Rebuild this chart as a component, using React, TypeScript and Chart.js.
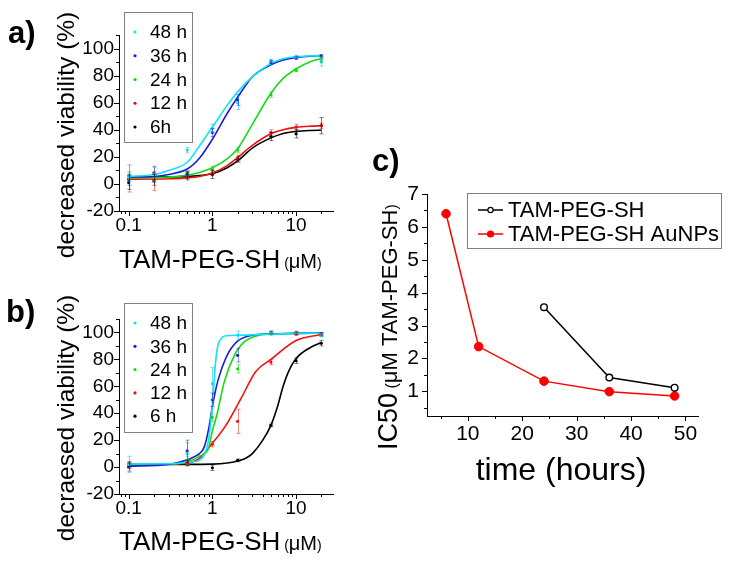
import React, { useEffect, useRef } from 'react';
import { Chart, registerables } from 'chart.js';

Chart.register(...registerables);

const FONT = '"Liberation Sans", Arial, Helvetica, sans-serif';

// ---------------- Panel a : TAM-PEG-SH ----------------
const concA = [0.1, 0.2, 0.5, 1, 2, 5, 10, 20];
const labelsA = ['48 h', '36 h', '24 h', '12 h', '6h'];
const a48 = [5, 7, 25, 41, 60, 91, 94, 90];
const a36 = [3, 8, 7, 38, 62, 90, 93, 94.5];
const a24 = [6, 4, 8, 11, 25, 66, 84, 92];
const a12 = [4, 2, 6, 8, 19, 38, 42, 43];
const a6 = [1, 3, 6, 7, 18, 35, 37, 43];
const a48Err = [3, 5, 2, 3, 5, 1, 1, 3];
const a36Err = [4, 5, 2, 3, 4, 1, 1, 1];
const a24Err = [3, 3, 2, 2, 2, 2, 1, 2];
const a12Err = [10, 7, 2, 2, 2, 2, 2, 2];
const a6Err = [5, 4, 3, 3, 2, 3, 3, 6];
const fitXA = [0.1, 0.2, 0.3, 0.5, 0.7, 1, 1.5, 2, 3, 5, 7, 10, 15, 20];
const fitA48 = [5.5, 7, 10, 16, 28, 42, 58, 68, 79, 89, 92.5, 94, 94.6, 94.8];
const fitA36 = [5, 5.5, 7, 11, 19, 33, 52, 64, 79, 88, 91.5, 93.5, 94.3, 94.8];
const fitA24 = [4.5, 4.8, 5, 6.5, 8.5, 12, 18.5, 26, 44, 67, 78, 85, 90.5, 92.5];
const fitA12 = [3.5, 3.6, 3.8, 4.5, 5.5, 8, 13.5, 19.5, 28.5, 37, 40, 41.8, 42.7, 43];
const fitA6 = [5, 5.1, 5.2, 5.6, 6.2, 7.5, 12, 17, 26.5, 34, 37.3, 38.8, 39.5, 39.7];

// ---------------- Panel b : TAM-PEG-SH AuNPs ----------------
const concB = [0.1, 0.5, 1, 2, 5, 10, 20];
const labelsB = ['48 h', '36 h', '24 h', '12 h', '6 h'];
const b48 = [2, 10, 62, 98, 100, 100, 98];
const b36 = [0, 12, 50, 83, 100, 99.5, 99];
const b24 = [1, 5, 37, 73, 99, 99, 98];
const b12 = [1, 3, 17, 34, 78, 99, 99];
const b6 = [2, 3, -0.5, 5, 31, 79, 92];
const b48Err = [6, 8, 12, 3, 1, 1, 1];
const b36Err = [3, 8, 5, 5, 1, 1, 1];
const b24Err = [2, 3, 3, 3, 1, 1, 1];
const b12Err = [2, 2, 2, 9, 2, 1, 1];
const b6Err = [2, 2, 2, 1, 1, 2, 2];
const fitXB48 = [0.1, 0.3, 0.5, 0.6, 0.7, 0.8, 0.9, 1, 1.1, 1.2, 1.5, 2, 5, 10, 20];
const fitB48 = [2.5, 2.5, 3.5, 4, 5, 9, 20, 47, 80, 93, 97.6, 97.9, 98.8, 99.2, 99.5];
const fitXB36 = [0.1, 0.3, 0.5, 0.6, 0.7, 0.8, 0.9, 1, 1.1, 1.2, 1.5, 2, 3, 5, 10, 20];
const fitB36 = [0.7, 2, 5.5, 7.5, 10, 15, 28, 45, 58, 67, 83, 93.5, 98, 99, 99.3, 99.5];
const fitXB24 = [0.1, 0.3, 0.5, 0.7, 0.9, 1, 1.13, 1.39, 1.83, 2.4, 3.6, 5, 10, 20];
const fitB24 = [2, 2.2, 4, 8, 14, 27, 38.7, 63.5, 83, 93, 98, 99, 99.3, 99.5];
const fitXB12 = [0.1, 0.3, 0.5, 0.7, 0.96, 1.45, 2.2, 3.3, 5, 10, 20];
const fitB12 = [2, 2.2, 3, 6.5, 16.4, 31, 51, 71, 80, 94, 98.5];
const fitXB6 = [0.1, 0.5, 1, 1.5, 2, 2.5, 3, 4, 5, 6, 7, 8, 10, 15, 20];
const fitB6 = [2, 2, 2.2, 3, 4.5, 6.5, 10, 20, 31, 45, 60, 70, 80.6, 89, 92.5];

// ---------------- Panel c : IC50 vs time ----------------
const timesFree = [24, 36, 48];
const ic50Free = [3.56, 1.42, 1.11];
const timesAuNP = [6, 12, 24, 36, 48];
const ic50AuNP = [6.4, 2.36, 1.31, 0.99, 0.86];
const legendC = ['TAM-PEG-SH', 'TAM-PEG-SH AuNPs'];

// tick labels
const xTicksAB = [0.1, 1, 10];
const yTicksAB = [-20, 0, 20, 40, 60, 80, 100];
const xTicksC = [10, 20, 30, 40, 50];
const yTicksC = [1, 2, 3, 4, 5, 6, 7];

const COLORS = ['#10e4f4', '#1c1ce0', '#14dc14', '#f01010', '#000000'];
const ERR_COLORS = ['rgba(16,200,240,0.55)', 'rgba(28,28,224,0.5)', 'rgba(20,200,20,0.5)', 'rgba(240,16,16,0.5)', 'rgba(0,0,0,0.5)'];

function minorValues(scale: any, step: number) {
  const out: number[] = [];
  if (scale.type === 'logarithmic') {
    const e0 = Math.floor(Math.log10(scale.min));
    const e1 = Math.ceil(Math.log10(scale.max));
    for (let e = e0; e <= e1; e++) {
      for (let d = 1; d <= 9; d++) {
        const v = d * Math.pow(10, e);
        if (v >= scale.min * 0.999999 && v <= scale.max * 1.000001) out.push(v);
      }
    }
  } else {
    for (let v = Math.ceil(scale.min / step - 1e-9) * step; v <= scale.max + 1e-9; v += step) out.push(+v.toFixed(6));
  }
  return out;
}

function drawRuns(ctx: CanvasRenderingContext2D, runs: any[], x: number, y: number, rot: number, align: string) {
  ctx.save();
  ctx.translate(x, y);
  if (rot) ctx.rotate(rot);
  ctx.textBaseline = 'alphabetic';
  ctx.textAlign = 'left';
  ctx.fillStyle = '#000';
  let total = 0;
  const widths = runs.map((r) => {
    ctx.font = r.font;
    const w = ctx.measureText(r.s).width;
    total += w;
    return w;
  });
  let cx = align === 'center' ? -total / 2 : align === 'right' ? -total : 0;
  runs.forEach((r, i) => {
    ctx.font = r.font;
    ctx.fillText(r.s, cx, 0);
    cx += widths[i];
  });
  ctx.restore();
}

const decoPlugin = {
  id: 'deco',
  afterDatasetsDraw(chart: any) {
    const ctx = chart.ctx;
    const xs = chart.scales.x;
    const ys = chart.scales.y;
    chart.data.datasets.forEach((ds: any) => {
      if (!ds.errors) return;
      ctx.save();
      ctx.strokeStyle = ds.errorColor;
      ctx.lineWidth = 1;
      ds.data.forEach((p: any, j: number) => {
        const e = ds.errors[j];
        if (!e) return;
        const x = Math.round(xs.getPixelForValue(p.x)) + 0.5;
        const y1 = ys.getPixelForValue(p.y - e);
        const y2 = ys.getPixelForValue(p.y + e);
        ctx.beginPath();
        ctx.moveTo(x, y1);
        ctx.lineTo(x, y2);
        ctx.moveTo(x - 2, y1);
        ctx.lineTo(x + 2, y1);
        ctx.moveTo(x - 2, y2);
        ctx.lineTo(x + 2, y2);
        ctx.stroke();
      });
      ctx.restore();
    });
  },
  afterDraw(chart: any, _args: any, opts: any) {
    const ctx: CanvasRenderingContext2D = chart.ctx;
    const xs = chart.scales.x;
    const ys = chart.scales.y;
    const area = chart.chartArea;
    ctx.save();
    ctx.strokeStyle = '#000';
    ctx.lineWidth = 1;
    const isMajor = (scale: any, v: number) =>
      scale.ticks.some((t: any) => Math.abs(t.value - v) <= Math.abs(v) * 1e-6 + 1e-9);
    minorValues(xs, opts.xStep).forEach((v) => {
      const px = Math.round(xs.getPixelForValue(v)) + 0.5;
      const len = isMajor(xs, v) ? opts.majorLen : opts.minorLen;
      ctx.beginPath();
      ctx.moveTo(px, area.bottom);
      ctx.lineTo(px, area.bottom + len);
      ctx.stroke();
    });
    minorValues(ys, opts.yStep).forEach((v) => {
      const py = Math.round(ys.getPixelForValue(v)) + 0.5;
      const len = isMajor(ys, v) ? opts.majorLen : opts.minorLen;
      ctx.beginPath();
      ctx.moveTo(area.left, py);
      ctx.lineTo(area.left - len, py);
      ctx.stroke();
    });
    ctx.restore();

    const lg = opts.legend;
    if (lg) {
      ctx.save();
      const [x1, y1, x2, y2] = lg.box;
      ctx.fillStyle = '#fff';
      ctx.fillRect(x1, y1, x2 - x1, y2 - y1);
      ctx.strokeStyle = '#808080';
      ctx.lineWidth = 1;
      ctx.strokeRect(x1 + 0.5, y1 + 0.5, x2 - x1, y2 - y1);
      const items = chart.data.datasets.filter((d: any) => d.legendItem);
      items.forEach((d: any, i: number) => {
        const y = lg.y0 + i * lg.dy;
        if (lg.style === 'line') {
          ctx.strokeStyle = d.borderColor;
          ctx.lineWidth = 1.5;
          ctx.beginPath();
          ctx.moveTo(lg.lineX1, y);
          ctx.lineTo(lg.lineX2, y);
          ctx.stroke();
          ctx.beginPath();
          ctx.arc(lg.markerX, y, d.legendRadius, 0, Math.PI * 2);
          ctx.fillStyle = d.pointBackgroundColor;
          ctx.fill();
          ctx.strokeStyle = d.pointBorderColor;
          ctx.lineWidth = 1.2;
          ctx.stroke();
        } else {
          ctx.beginPath();
          ctx.arc(lg.markerX, y, 1.6, 0, Math.PI * 2);
          ctx.fillStyle = d.borderColor;
          ctx.fill();
        }
        ctx.fillStyle = '#000';
        ctx.font = lg.font;
        ctx.textBaseline = 'middle';
        ctx.textAlign = 'left';
        ctx.fillText(d.label, lg.textX, y + 1);
      });
      ctx.restore();
    }

    (opts.texts || []).forEach((t: any) => drawRuns(ctx, t.runs, t.x, t.y, t.rot || 0, t.align || 'left'));
  },
};

const tickFontAB = { family: FONT, size: 19 };

function makeSigmoidPanel(
  conc: number[],
  labels: string[],
  values: number[][],
  errors: number[][],
  fitX: number[][],
  fitY: number[][],
  layout: { top: number; xHeight: number },
  texts: any[],
  legend: any
) {
  const points = values.map((vals, s) => ({
    type: 'scatter',
    label: labels[s],
    legendItem: true,
    data: conc.map((x, i) => ({ x, y: vals[i] })),
    errors: errors[s],
    errorColor: ERR_COLORS[s],
    borderColor: COLORS[s],
    backgroundColor: COLORS[s],
    pointRadius: 1.6,
    pointBorderWidth: 0,
    showLine: false,
  }));
  const curves = fitY.map((ys, s) => ({
    type: 'line',
    label: labels[s] + ' fit',
    data: fitX[s].map((x, i) => ({ x, y: ys[i] })),
    borderColor: COLORS[s],
    borderWidth: 1.6,
    pointRadius: 0,
    cubicInterpolationMode: 'monotone',
    fill: false,
  }));
  return {
    type: 'scatter',
    data: { datasets: [...points, ...curves] },
    plugins: [decoPlugin],
    options: {
      animation: false,
      responsive: false,
      maintainAspectRatio: false,
      events: [],
      layout: { padding: { left: 0, top: layout.top, right: 37, bottom: 0 } },
      plugins: {
        legend: { display: false },
        tooltip: { enabled: false },
        deco: { xStep: 1, yStep: 10, majorLen: 5, minorLen: 3, texts, legend },
      },
      scales: {
        x: {
          type: 'logarithmic',
          min: 0.0766,
          max: 27.6,
          afterBuildTicks: (s: any) => {
            s.ticks = xTicksAB.map((v) => ({ value: v }));
          },
          afterFit: (s: any) => {
            s.height = layout.xHeight;
          },
          ticks: { callback: (v: any) => String(v), font: tickFontAB, color: '#000', padding: 3, autoSkip: false, maxRotation: 0 },
          grid: { display: false, drawTicks: false },
          border: { display: true, color: '#000', width: 1 },
        },
        y: {
          type: 'linear',
          min: -20,
          max: 110,
          afterBuildTicks: (s: any) => {
            s.ticks = yTicksAB.map((v) => ({ value: v }));
          },
          afterFit: (s: any) => {
            s.width = 119;
          },
          ticks: { callback: (v: any) => String(v), font: tickFontAB, color: '#000', padding: 5, autoSkip: false },
          grid: { display: false, drawTicks: false },
          border: { display: true, color: '#000', width: 1 },
        },
      },
    },
  };
}

function xTitleRuns() {
  return [
    { s: 'TAM-PEG-SH', font: `26px ${FONT}` },
    { s: ' (', font: `14px ${FONT}` },
    { s: 'μM', font: `20px ${FONT}` },
    { s: ')', font: `14px ${FONT}` },
  ];
}

function configA() {
  return makeSigmoidPanel(
    concA,
    labelsA,
    [a48, a36, a24, a12, a6],
    [a48Err, a36Err, a24Err, a12Err, a6Err],
    [fitXA, fitXA, fitXA, fitXA, fitXA],
    [fitA48, fitA36, fitA24, fitA12, fitA6],
    { top: 35, xHeight: 69 },
    [
      { runs: [{ s: 'a)', font: `bold 31px ${FONT}` }], x: 8, y: 43 },
      { runs: [{ s: 'decreased viability (%)', font: `24.5px ${FONT}` }], x: 74, y: 135, rot: -Math.PI / 2, align: 'center' },
      { runs: xTitleRuns(), x: 119, y: 268 },
    ],
    { box: [124, 12, 192, 142], markerX: 135, textX: 150, y0: 32, dy: 23.75, font: `19px ${FONT}` }
  );
}

function configB() {
  return makeSigmoidPanel(
    concB,
    labelsB,
    [b48, b36, b24, b12, b6],
    [b48Err, b36Err, b24Err, b12Err, b6Err],
    [fitXB48, fitXB36, fitXB24, fitXB12, fitXB6],
    [fitB48, fitB36, fitB24, fitB12, fitB6],
    { top: 37, xHeight: 70 },
    [
      { runs: [{ s: 'b)', font: `bold 31px ${FONT}` }], x: 6, y: 40 },
      { runs: [{ s: 'decraesed viability (%)', font: `24.5px ${FONT}` }], x: 74, y: 136, rot: -Math.PI / 2, align: 'center' },
      { runs: xTitleRuns(), x: 119, y: 268 },
    ],
    { box: [124, 21, 192, 150], markerX: 135, textX: 150, y0: 41, dy: 23.3, font: `19px ${FONT}` }
  );
}

function configC() {
  const tickFont = { family: FONT, size: 21 };
  return {
    type: 'line',
    data: {
      datasets: [
        {
          label: legendC[0],
          legendItem: true,
          legendRadius: 2.6,
          data: timesFree.map((x, i) => ({ x, y: ic50Free[i] })),
          borderColor: '#000',
          borderWidth: 1.5,
          pointRadius: 3.3,
          pointBorderWidth: 1.4,
          pointBackgroundColor: '#fff',
          pointBorderColor: '#000',
          tension: 0,
          fill: false,
        },
        {
          label: legendC[1],
          legendItem: true,
          legendRadius: 3,
          data: timesAuNP.map((x, i) => ({ x, y: ic50AuNP[i] })),
          borderColor: '#ff0000',
          borderWidth: 1.5,
          pointRadius: 4.3,
          pointBorderWidth: 1,
          pointBackgroundColor: '#ff0000',
          pointBorderColor: '#ff0000',
          tension: 0,
          fill: false,
        },
      ],
    },
    plugins: [decoPlugin],
    options: {
      animation: false,
      responsive: false,
      maintainAspectRatio: false,
      events: [],
      layout: { padding: { left: 0, top: 64, right: 43, bottom: 0 } },
      plugins: {
        legend: { display: false },
        tooltip: { enabled: false },
        deco: {
          xStep: 5,
          yStep: 0.5,
          majorLen: 5,
          minorLen: 3,
          legend: { box: [97, 63, 351, 118], style: 'line', lineX1: 108, lineX2: 133, markerX: 120.5, textX: 138, y0: 80, dy: 24, font: `22px ${FONT}` },
          texts: [
            { runs: [{ s: 'c)', font: `bold 31px ${FONT}` }], x: 2, y: 41 },
            { runs: [{ s: 'time (hours)', font: `32px ${FONT}` }], x: 191, y: 350, align: 'center' },
            {
              runs: [
                { s: 'IC50', font: `27px ${FONT}` },
                { s: ' (', font: `16px ${FONT}` },
                { s: 'μM TAM-PEG-SH', font: `22px ${FONT}` },
                { s: ')', font: `16px ${FONT}` },
              ],
              x: 27,
              y: 320,
              rot: -Math.PI / 2,
            },
          ],
        },
      },
      scales: {
        x: {
          type: 'linear',
          min: 2.5,
          max: 52.3,
          afterBuildTicks: (s: any) => {
            s.ticks = xTicksC.map((v) => ({ value: v }));
          },
          afterFit: (s: any) => {
            s.height = 148;
          },
          ticks: { callback: (v: any) => String(v), font: tickFont, color: '#000', padding: 6, autoSkip: false, maxRotation: 0 },
          grid: { display: false, drawTicks: false },
          border: { display: true, color: '#000', width: 1 },
        },
        y: {
          type: 'linear',
          min: 0.25,
          max: 7,
          afterBuildTicks: (s: any) => {
            s.ticks = yTicksC.map((v) => ({ value: v }));
          },
          afterFit: (s: any) => {
            s.width = 57;
          },
          ticks: { callback: (v: any) => String(v), font: tickFont, color: '#000', padding: 8, autoSkip: false },
          grid: { display: false, drawTicks: false },
          border: { display: true, color: '#000', width: 1 },
        },
      },
    },
  };
}

function ChartPanel(props: { make: () => any; left: number; top: number; width: number; height: number }) {
  const ref = useRef<HTMLCanvasElement>(null);
  useEffect(() => {
    const chart = new Chart(ref.current as HTMLCanvasElement, props.make());
    return () => chart.destroy();
  }, []);
  return (
    <canvas
      ref={ref}
      width={props.width}
      height={props.height}
      style={{ position: 'absolute', left: props.left, top: props.top, width: props.width, height: props.height, display: 'block' }}
    />
  );
}

export default function App() {
  return (
    <div style={{ position: 'absolute', left: 0, top: 0, width: 741, height: 564, background: '#fff', overflow: 'hidden' }}>
      <ChartPanel make={configA} left={0} top={0} width={370} height={280} />
      <ChartPanel make={configB} left={0} top={282} width={370} height={282} />
      <ChartPanel make={configC} left={370} top={130} width={371} height={434} />
    </div>
  );
}
